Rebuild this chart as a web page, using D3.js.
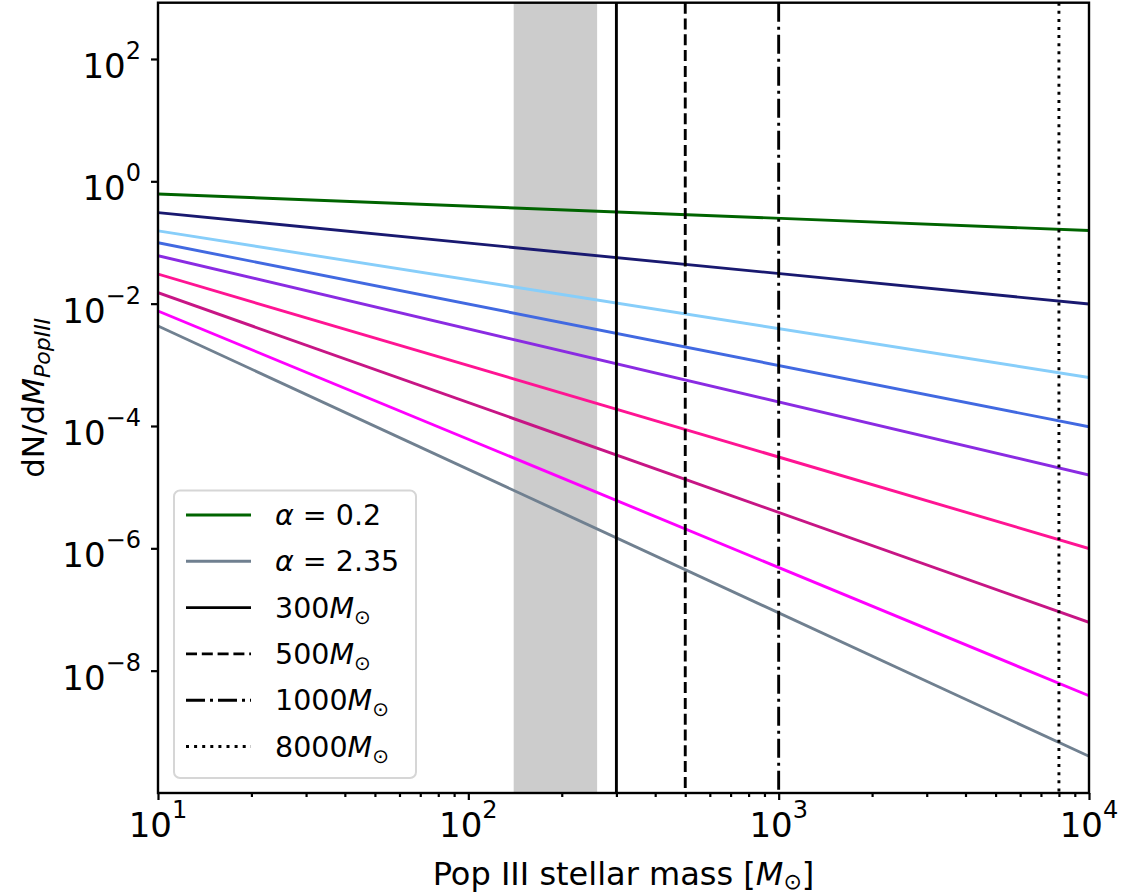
<!DOCTYPE html>
<html>
<head>
<meta charset="utf-8">
<script src="https://cdn.jsdelivr.net/npm/d3@7"></script>
<style>
  body { margin: 0; background: #fff; }
  .font { font-family: "DejaVu Sans", sans-serif; fill: #000; }
</style>
</head>
<body>
<svg id="chart" width="1127" height="894"></svg>
<script>
// values
const MASS_ENDS = [10, 10000];
const ALPHAS = [0.2, 0.5, 0.8, 1.0, 1.2, 1.5, 1.8, 2.1, 2.35];
const DNDM_AT_LOW = [0.622, 0.308, 0.155, 0.0989, 0.0607, 0.0304, 0.0151, 0.00757, 0.00432];
const DNDM_AT_HIGH = [0.157, 0.00986, 6.21e-4, 9.7e-5, 1.58e-5, 9.93e-7, 6.17e-8, 3.89e-9, 3.98e-10];
const CUTOFF_MASSES = [300, 500, 1000, 8000];
const BAND_RANGE = [140, 260];
const X_TICKS = [10, 100, 1000, 10000];
const Y_TICKS = [1e2, 1, 1e-2, 1e-4, 1e-6, 1e-8];
const LEGEND_ALPHAS = [0.2, 2.35];

const LINE_COLORS = ["#006400", "#191970", "#87cefa", "#4169e1", "#8a2be2",
    "#ff1493", "#c71585", "#ff00ff", "#708090"];
const CUTOFF_DASHES = ["none", "11,4.8", "19,5,3,5", "3,5.1"];

const WIDTH = 1127, HEIGHT = 894;
const PLOT_LEFT = 158, PLOT_RIGHT = 1089, PLOT_TOP = 2.7, PLOT_BOTTOM = 793;
const LW = 2.9;

var svg = d3.select("#chart");

var xScale = d3.scaleLog()
    .domain([10, 10000])
    .range([PLOT_LEFT, PLOT_RIGHT]);
var yScale = d3.scaleLog()
    .domain([1e-10, Math.pow(10, 2.92)])
    .range([PLOT_BOTTOM, PLOT_TOP]);

svg.append("clipPath")
    .attr("id", "plotClip")
    .append("rect")
    .attr("x", PLOT_LEFT)
    .attr("y", PLOT_TOP)
    .attr("width", PLOT_RIGHT - PLOT_LEFT)
    .attr("height", PLOT_BOTTOM - PLOT_TOP);

var plot = svg.append("g").attr("clip-path", "url(#plotClip)");

// grey mass band
plot.append("rect")
    .attr("x", xScale(BAND_RANGE[0]))
    .attr("y", PLOT_TOP)
    .attr("width", xScale(BAND_RANGE[1]) - xScale(BAND_RANGE[0]))
    .attr("height", PLOT_BOTTOM - PLOT_TOP)
    .attr("fill", "#cccccc");

// power-law lines
var line = d3.line()
    .x(function(d) { return xScale(d[0]); })
    .y(function(d) { return yScale(d[1]); });
for (var i = 0; i < ALPHAS.length; i++) {
    var pts = [[MASS_ENDS[0], DNDM_AT_LOW[i]], [MASS_ENDS[1], DNDM_AT_HIGH[i]]];
    plot.append("path")
        .datum(pts)
        .attr("d", line)
        .attr("fill", "none")
        .attr("stroke", LINE_COLORS[i])
        .attr("stroke-width", LW);
}

// cutoff masses
plot.selectAll(".cutoff")
    .data(CUTOFF_MASSES)
    .enter()
    .append("line")
    .attr("x1", function(d) { return xScale(d); })
    .attr("x2", function(d) { return xScale(d); })
    .attr("y1", PLOT_TOP)
    .attr("y2", PLOT_BOTTOM)
    .attr("stroke", "#000")
    .attr("stroke-width", LW)
    .attr("stroke-dasharray", function(d, i) { return CUTOFF_DASHES[i]; });

// axes
var xAxis = d3.axisBottom(xScale)
    .tickValues(X_TICKS)
    .tickSize(7)
    .tickFormat("");
var xMinor = [];
for (var dec = 10; dec < 10000; dec *= 10) {
    for (var k = 2; k < 10; k++) xMinor.push(dec * k);
}
var xAxisMinor = d3.axisBottom(xScale)
    .tickValues(xMinor)
    .tickSize(4)
    .tickFormat("");
var yAxis = d3.axisLeft(yScale)
    .tickValues(Y_TICKS)
    .tickSize(7)
    .tickFormat("");

svg.append("g")
    .attr("transform", "translate(0," + PLOT_BOTTOM + ")")
    .call(xAxisMinor);
svg.append("g")
    .attr("transform", "translate(0," + PLOT_BOTTOM + ")")
    .call(xAxis);
svg.append("g")
    .attr("transform", "translate(" + PLOT_LEFT + ",0)")
    .call(yAxis);
svg.selectAll(".domain").remove();
svg.selectAll(".tick line")
    .attr("stroke", "#000")
    .attr("stroke-width", 2.2);

// spines
svg.append("rect")
    .attr("x", PLOT_LEFT)
    .attr("y", PLOT_TOP)
    .attr("width", PLOT_RIGHT - PLOT_LEFT)
    .attr("height", PLOT_BOTTOM - PLOT_TOP)
    .attr("fill", "none")
    .attr("stroke", "#000")
    .attr("stroke-width", 2.4);

function expText(sel, v) {
    var e = Math.round(Math.log10(v));
    sel.append("tspan").text("10");
    sel.append("tspan")
        .attr("dy", -19)
        .attr("font-size", 24)
        .text(String(e).replace("-", "\u2212"));
}

X_TICKS.forEach(function(v) {
    var t = svg.append("text")
        .classed("font", true)
        .attr("x", xScale(v))
        .attr("y", 837)
        .attr("font-size", 34)
        .attr("text-anchor", "middle");
    expText(t, v);
});
Y_TICKS.forEach(function(v) {
    var t = svg.append("text")
        .classed("font", true)
        .attr("x", 141)
        .attr("y", yScale(v) + 19)
        .attr("font-size", 34)
        .attr("text-anchor", "end");
    expText(t, v);
});

// axis labels
var xLabel = svg.append("text")
    .classed("font", true)
    .attr("x", (PLOT_LEFT + PLOT_RIGHT) / 2)
    .attr("y", 885)
    .attr("font-size", 32)
    .attr("text-anchor", "middle");
xLabel.append("tspan").text("Pop III stellar mass [");
xLabel.append("tspan").attr("font-style", "italic").text("M");
xLabel.append("tspan").attr("font-size", 22).attr("dy", 4).text("\u2299");
xLabel.append("tspan").attr("dy", -4).text("]");

var yLabel = svg.append("text")
    .classed("font", true)
    .attr("transform", "translate(44," + ((PLOT_TOP + PLOT_BOTTOM) / 2) + ") rotate(-90)")
    .attr("font-size", 31)
    .attr("text-anchor", "middle");
yLabel.append("tspan").text("dN/d");
yLabel.append("tspan").attr("font-style", "italic").text("M");
yLabel.append("tspan").attr("font-style", "italic").attr("font-size", 22).attr("dy", 6).text("PopIII");

// legend
var legend = svg.append("g");
legend.append("rect")
    .attr("x", 174)
    .attr("y", 490.5)
    .attr("width", 242)
    .attr("height", 287.5)
    .attr("rx", 6)
    .attr("fill", "#fff")
    .attr("fill-opacity", 0.8)
    .attr("stroke", "#d6d6d6")
    .attr("stroke-width", 2);

var legendItems = [];
LEGEND_ALPHAS.forEach(function(a) {
    legendItems.push({ kind: "alpha", value: a, color: LINE_COLORS[ALPHAS.indexOf(a)], dash: "none" });
});
CUTOFF_MASSES.forEach(function(m, i) {
    legendItems.push({ kind: "mass", value: m, color: "#000", dash: CUTOFF_DASHES[i] });
});

var rowY = d3.scaleLinear().domain([0, 5]).range([515, 746.5]);
legendItems.forEach(function(d, i) {
    var y = rowY(i);
    legend.append("line")
        .attr("x1", 186).attr("x2", 251)
        .attr("y1", y).attr("y2", y)
        .attr("stroke", d.color)
        .attr("stroke-width", LW)
        .attr("stroke-dasharray", d.dash);
    var t = legend.append("text")
        .classed("font", true)
        .attr("x", 275)
        .attr("y", y + 10)
        .attr("font-size", 28.5);
    if (d.kind === "alpha") {
        t.append("tspan").attr("font-style", "italic").text("\u03b1");
        t.append("tspan").text(" = " + d.value);
    } else {
        t.append("tspan").text(d.value);
        t.append("tspan").attr("font-style", "italic").text("M");
        t.append("tspan").attr("font-size", 20).attr("dy", 6).text("\u2299");
    }
});
</script>
</body>
</html>
